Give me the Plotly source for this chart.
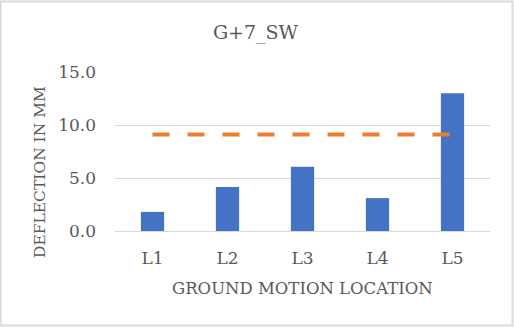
import plotly.graph_objects as go

categories = ["L1", "L2", "L3", "L4", "L5"]
deflection = [1.8, 4.15, 6.05, 3.1, 13.0]
limit = [9.1, 9.1, 9.1, 9.1, 9.1]
y_ticks = [0, 5, 10, 15]
y_tick_labels = ["0.0", "5.0", "10.0", "15.0"]

W, H = 514, 327
ml, mr, mt, mb = 115, 24, 72, 96
pw, ph = W - ml - mr, H - mt - mb

font_family = "DejaVu Serif"
grey = "#595959"

fig = go.Figure()
fig.add_trace(go.Bar(x=categories, y=deflection, marker_color="#4472c4",
                     marker_line_width=0, showlegend=False))
fig.add_trace(go.Scatter(x=categories, y=limit, mode="lines",
                         line=dict(color="#ed7d31", width=4, dash="17px,18px"),
                         showlegend=False))

fig.update_layout(
    width=W, height=H,
    margin=dict(l=ml, r=mr, t=mt, b=mb),
    paper_bgcolor="white", plot_bgcolor="white",
    bargap=0.69,
    font=dict(family=font_family, color=grey),
    title=dict(text="G+7_SW", x=255.5 / W, xanchor="center",
               y=1 - 32 / H, yanchor="middle",
               font=dict(size=19, color=grey, family=font_family)),
    xaxis=dict(showgrid=False, showline=True, linecolor="#d9d9d9", linewidth=1,
               ticks="", tickfont=dict(size=17, color=grey, family=font_family),
               ticklabelstandoff=12),
    yaxis=dict(range=[0, 15], tickvals=y_ticks, ticktext=y_tick_labels,
               showgrid=True, gridcolor="#d9d9d9", gridwidth=1, zeroline=False,
               showline=False, ticks="", tickfont=dict(size=17, color=grey, family=font_family),
               ticklabelstandoff=18),
    annotations=[
        dict(text="GROUND MOTION LOCATION", xref="paper", yref="paper",
             x=(302 - ml) / pw, y=-(288 - (H - mb)) / ph,
             xanchor="center", yanchor="middle", showarrow=False,
             font=dict(size=16.5, color=grey, family=font_family)),
        dict(text="DEFLECTION IN MM", xref="paper", yref="paper",
             x=(40 - ml) / pw, y=((H - mb) - 172) / ph, textangle=-90,
             xanchor="center", yanchor="middle", showarrow=False,
             font=dict(size=15.5, color=grey, family=font_family)),
    ],
    shapes=[dict(type="rect", xref="paper", yref="paper",
                 x0=(0.5 - ml) / pw, x1=(W - 1.5 - ml) / pw,
                 y0=-(mb - 1.5) / ph, y1=1 + (mt - 1.5) / ph,
                 line=dict(color="#d9d9d9", width=2), fillcolor="rgba(0,0,0,0)",
                 layer="below")],
)

fig.write_html("out.html")
